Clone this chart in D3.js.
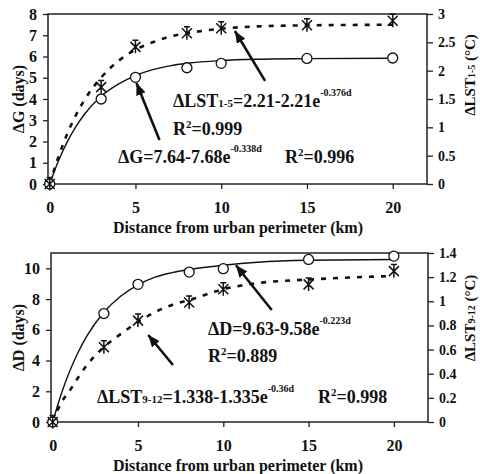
<!DOCTYPE html>
<html>
<head>
<meta charset="utf-8">
<script src="https://cdn.jsdelivr.net/npm/d3@7"></script>
<style>
  body { margin: 0; background: #fff; }
  svg text { font-family: "Liberation Serif", "Times New Roman", serif; font-weight: bold; fill: #111; }
</style>
</head>
<body>
<svg id="chart" width="480" height="474"></svg>
<script>
// observed points (km from urban perimeter)
const distance = [0, 3, 5, 8, 10, 15, 20]
const deltaG = [0, 4.0, 5.02, 5.47, 5.68, 5.91, 5.93]
const deltaLst15 = [0, 1.71, 2.42, 2.66, 2.75, 2.8, 2.88]
const deltaD = [0, 7.06, 8.96, 9.76, 9.98, 10.58, 10.8]
const deltaLst912 = [0, 0.62, 0.84, 0.99, 1.1, 1.14, 1.25]

// fitted curves
const fitDistance = [0, 0.5, 1, 1.5, 2, 3, 4, 5, 6, 7, 8, 10, 12, 15, 20]
const fitG = [0, 1.07, 1.95, 2.66, 3.26, 4.13, 4.7, 5.1, 5.38, 5.56, 5.68, 5.81, 5.87, 5.9, 5.92]
const fitLst15 = [0, 0.47, 0.87, 1.2, 1.47, 1.88, 2.17, 2.37, 2.5, 2.6, 2.66, 2.74, 2.78, 2.8, 2.81]
const fitD = [0, 1.82, 3.32, 4.56, 5.59, 7.14, 8.2, 8.93, 9.43, 9.72, 9.92, 10.2, 10.4, 10.53, 10.58]
const fitLst912 = [0, 0.16, 0.26, 0.37, 0.47, 0.62, 0.73, 0.83, 0.91, 0.97, 1.01, 1.1, 1.15, 1.18, 1.21]

const xTicks = [0, 5, 10, 15, 20]
const gTicks = [0, 1, 2, 3, 4, 5, 6, 7, 8]
const lst15Ticks = [0, 0.5, 1, 1.5, 2, 2.5, 3]
const dTicks = [0, 2, 4, 6, 8, 10]
const lst912Ticks = [0, 0.2, 0.4, 0.6, 0.8, 1, 1.2, 1.4]

const xTitle = "Distance from urban perimeter (km)"

const svg = d3.select("#chart")

svg.append("defs").append("marker")
  .attr("id", "arrow")
  .attr("markerUnits", "userSpaceOnUse")
  .attr("viewBox", "0 0 12 10")
  .attr("refX", 12)
  .attr("refY", 5)
  .attr("markerWidth", 12)
  .attr("markerHeight", 10)
  .attr("orient", "auto")
  .append("path")
  .attr("d", "M0,0L12,5L0,10Z")
  .attr("fill", "#111")

const asterisk = "M-5,-5L5,5M-5,5L5,-5M0,-6.5V6.5M-3,-6.5H3"

function richText(g, x, y, parts, size) {
  const t = g.append("text").attr("x", x).attr("y", y).style("font-size", size + "px")
  let shift = 0
  parts.forEach(p => {
    const span = t.append("tspan").text(p.t)
    let rise = p.rise || 0
    span.attr("dy", shift - rise)
    shift = rise
    span.style("font-size", (p.size || size) + "px")
  })
  return t
}

function drawPanel(cfg) {
  const x = d3.scaleLinear().domain([-0.1, 22]).range([cfg.left, cfg.right])
  const yL = d3.scaleLinear().domain(cfg.leftDomain).range([cfg.bottom, cfg.top])
  const yR = d3.scaleLinear().domain(cfg.rightDomain).range([cfg.bottom, cfg.top])

  const g = svg.append("g")

  g.append("rect")
    .attr("x", cfg.left).attr("y", cfg.top)
    .attr("width", cfg.right - cfg.left).attr("height", cfg.bottom - cfg.top)
    .attr("fill", "none").attr("stroke", "#222").attr("stroke-width", 1.5)

  const xAxis = g.append("g")
    .attr("transform", `translate(0,${cfg.bottom})`)
    .call(d3.axisBottom(x).tickValues(xTicks).tickSize(5).tickPadding(13).tickFormat(d => d))
  xAxis.selectAll("text").style("font-size", "16px")

  const leftAxis = g.append("g")
    .attr("transform", `translate(${cfg.left},0)`)
    .call(d3.axisLeft(yL).tickValues(cfg.leftTicks).tickSize(5).tickPadding(6).tickFormat(d => d))
  leftAxis.selectAll("text").style("font-size", "16px")

  const rightAxis = g.append("g")
    .attr("transform", `translate(${cfg.right},0)`)
    .call(d3.axisRight(yR).tickValues(cfg.rightTicks).tickSize(6).tickPadding(5).tickFormat(d => d))
  rightAxis.selectAll("text").style("font-size", "14px")

  g.selectAll(".domain").remove()
  g.selectAll(".tick line").attr("stroke", "#222").attr("stroke-width", 1.3)

  // fitted curves
  const solid = d3.line().x((d, i) => x(fitDistance[i])).y(d => yL(d)).curve(d3.curveMonotoneX)
  const dashed = d3.line().x((d, i) => x(fitDistance[i])).y(d => yR(d)).curve(d3.curveMonotoneX)

  g.append("path")
    .attr("d", solid(cfg.leftFit))
    .attr("fill", "none").attr("stroke", "#111").attr("stroke-width", 1.4)

  g.append("path")
    .attr("d", dashed(cfg.rightFit))
    .attr("fill", "none").attr("stroke", "#111").attr("stroke-width", 2.6)
    .attr("stroke-dasharray", "5,7")

  g.selectAll(".circle-pt")
    .data(cfg.leftObs)
    .join("circle")
    .attr("cx", (d, i) => x(distance[i]))
    .attr("cy", d => yL(d))
    .attr("r", 5)
    .attr("fill", "#fff").attr("stroke", "#111").attr("stroke-width", 1.3)

  g.selectAll(".star-pt")
    .data(cfg.rightObs)
    .join("path")
    .attr("transform", (d, i) => `translate(${x(distance[i])},${yR(d)})`)
    .attr("d", asterisk)
    .attr("fill", "none").attr("stroke", "#111").attr("stroke-width", 1.5)

  // arrows
  cfg.arrows.forEach(a => {
    g.append("line")
      .attr("x1", x(a.from[0])).attr("y1", yL(a.from[1]))
      .attr("x2", x(a.to[0])).attr("y2", yL(a.to[1]))
      .attr("stroke", "#111").attr("stroke-width", 2.6)
      .attr("marker-end", "url(#arrow)")
  })

  cfg.notes.forEach(n => richText(g, n.x, n.y, n.parts, 18))

  // axis titles
  g.append("text")
    .attr("transform", `translate(24,${(cfg.top + cfg.bottom) / 2}) rotate(-90)`)
    .attr("text-anchor", "middle")
    .style("font-size", "16px")
    .text(cfg.leftTitle)

  const rt = richText(g, 0, 0, cfg.rightTitle, 15)
  rt.attr("transform", `translate(475,${cfg.rightTitleY}) rotate(-90)`)
    .attr("text-anchor", "middle")

  g.append("text")
    .attr("x", 238).attr("y", cfg.bottom + 49)
    .attr("text-anchor", "middle")
    .style("font-size", "16px")
    .text(xTitle)
}

drawPanel({
  top: 14, bottom: 184, left: 48, right: 427,
  leftDomain: [0, 8], rightDomain: [0, 3],
  leftTicks: gTicks, rightTicks: lst15Ticks,
  leftObs: deltaG, rightObs: deltaLst15,
  leftFit: fitG, rightFit: fitLst15,
  leftTitle: "ΔG (days)",
  rightTitle: [{ t: "ΔLST" }, { t: "1-5", size: 10 }, { t: " (°C)" }],
  rightTitleY: 75,
  arrows: [
    { from: [6.4, 2.07], to: [5.06, 4.75] },
    { from: [12.56, 4.85], to: [10.8, 7.2] }
  ],
  notes: [
    { x: 173, y: 107, parts: [{ t: "ΔLST" }, { t: "1-5", size: 11 }, { t: "=2.21-2.21e" }, { t: "-0.376d", size: 10, rise: 11 }] },
    { x: 173, y: 135, parts: [{ t: "R" }, { t: "2", size: 11, rise: 7 }, { t: "=0.999" }] },
    { x: 118, y: 163, parts: [{ t: "ΔG=7.64-7.68e" }, { t: "-0.338d", size: 10, rise: 11 }] },
    { x: 285, y: 163, parts: [{ t: "R" }, { t: "2", size: 11, rise: 7 }, { t: "=0.996" }] }
  ]
})

drawPanel({
  top: 253, bottom: 422, left: 51, right: 428,
  leftDomain: [0, 11], rightDomain: [0, 1.4],
  leftTicks: dTicks, rightTicks: lst912Ticks,
  leftObs: deltaD, rightObs: deltaLst912,
  leftFit: fitD, rightFit: fitLst912,
  leftTitle: "ΔD (days)",
  rightTitle: [{ t: "ΔLST" }, { t: "9-12", size: 10 }, { t: " (°C)" }],
  rightTitleY: 318,
  arrows: [
    { from: [7.05, 3.71], to: [5.6, 5.66] },
    { from: [12.84, 7.29], to: [10.74, 10.2] }
  ],
  notes: [
    { x: 208, y: 335, parts: [{ t: "ΔD=9.63-9.58e" }, { t: "-0.223d", size: 10, rise: 11 }] },
    { x: 208, y: 362, parts: [{ t: "R" }, { t: "2", size: 11, rise: 7 }, { t: "=0.889" }] },
    { x: 97, y: 403, parts: [{ t: "ΔLST" }, { t: "9-12", size: 11 }, { t: "=1.338-1.335e" }, { t: "-0.36d", size: 10, rise: 11 }] },
    { x: 318, y: 403, parts: [{ t: "R" }, { t: "2", size: 11, rise: 7 }, { t: "=0.998" }] }
  ]
})
</script>
</body>
</html>
